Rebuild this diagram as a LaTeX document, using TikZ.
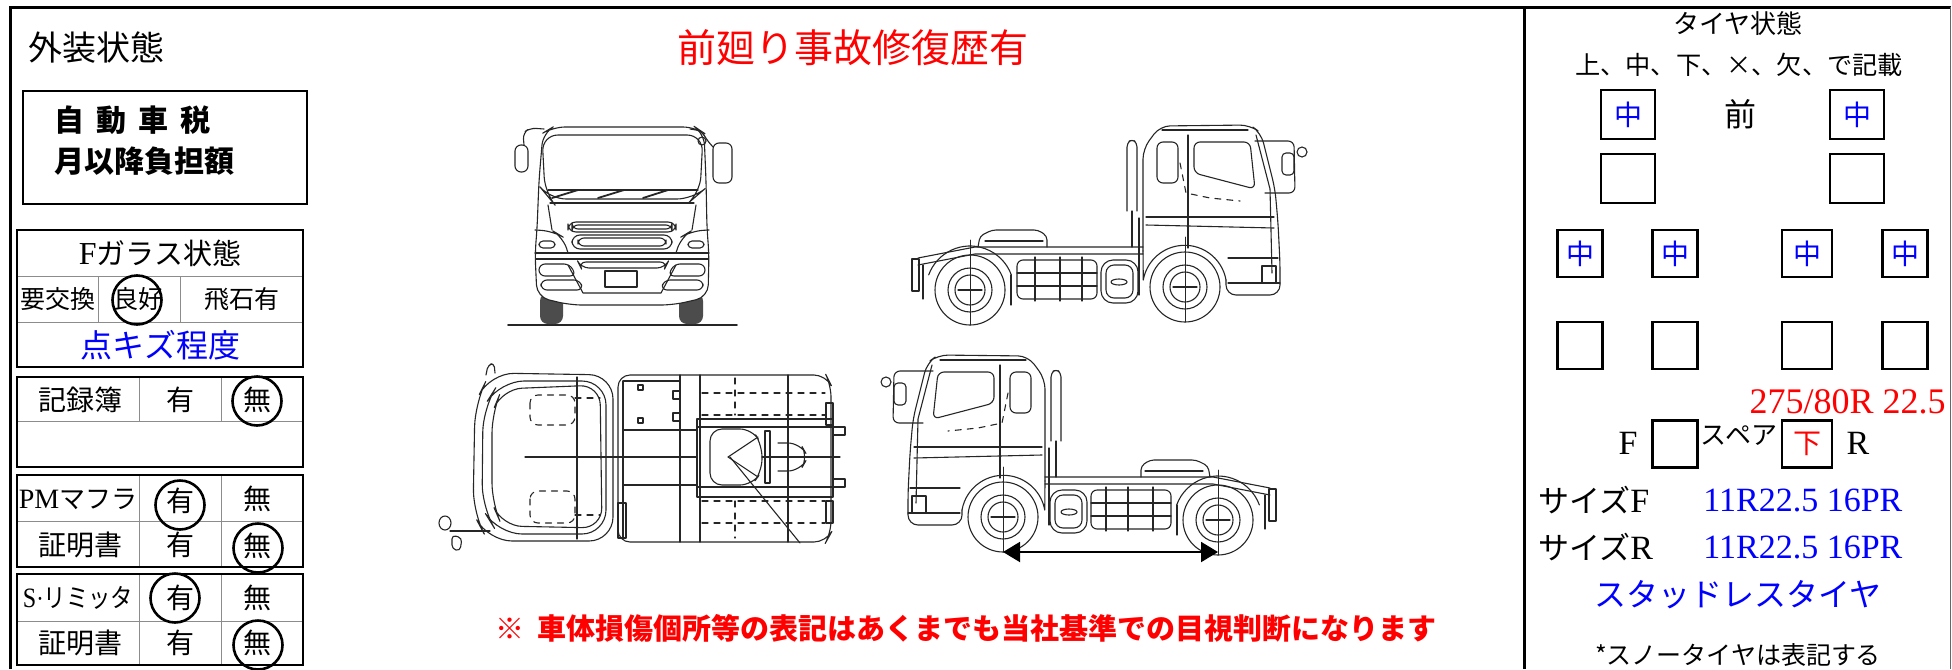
\documentclass[tikz,border=0pt]{standalone}
\usepackage{fontspec}
\setmainfont{Liberation Serif}
\newfontfamily\cjk{Noto Sans CJK JP}
\usetikzlibrary{arrows.meta}
\newcommand\fs[1]{\fontsize{#1}{#1}\selectfont}

\tikzset{
 tk/.style={line width=0.55pt, line join=round, line cap=round, black!85},
 frame/.style={line width=1.5pt},
 tbox/.style={line width=1.4pt},
 grid/.style={draw=black!45, line width=0.45pt},
 ring/.style={draw, circle, line width=1.3pt, inner sep=0pt, minimum size=24.5pt},
 txt/.style={inner sep=0pt, font=\cjk\fs{#1}},
 btxt/.style={inner sep=0pt, font=\cjk\bfseries\fs{#1}},
 latn/.style={inner sep=0pt, font=\fs{#1}},
 tyrebox/.style={draw, line width=1.4pt, inner sep=0pt, minimum width=#1, minimum height=23.5pt, font=\cjk\fs{14}},
 dim/.style={line width=1pt, {Triangle[length=8.5pt,width=10pt]}-{Triangle[length=8.5pt,width=10pt]}},
}

\newcommand\drawsidetruck{%
 % cab
 \draw[tk, rounded corners=5] (233,128) -- (233,26) -- (250,3) -- (340,2) -- (351,10) -- (365,66) -- (368,100) -- (370,140) -- (370,172) -- (316,172) -- (316,157);
 \draw[tk] (316,157) arc[start angle=-10, end angle=-170, radius=42] -- (233,128);
 \draw[tk] (252,7) -- (338,7);
 \draw[tk, rounded corners=3] (247,19) rectangle (268,60);
 \draw[tk, rounded corners=3] (284,19) -- (340,19) -- (345,66) -- (284,50) -- cycle;
 \draw[tk] (278,12) -- (278,125);
 \draw[tk] (346,12) -- (360,66) -- (362,150);
 \draw[tk] (236,94) -- (364,94);
 \draw[tk] (236,102) -- (364,105);
 \draw[tk] (318,135) -- (368,135);
 \draw[tk] (352,143) rectangle (366,160);
 \draw[tk] (318,160) -- (370,160);
 \draw[tk, dashed] (270,40) -- (276,70) -- (300,75) -- (330,78);
 % mirror
 \draw[tk, rounded corners=3] (345,18) -- (384,18) -- (385,70) -- (355,70);
 \draw[tk, rounded corners=2] (372,30) rectangle (384,52);
 \draw[tk] (392,29) circle[radius=5];
 % exhaust
 \draw[tk, rounded corners=2] (217,88) -- (217,20) -- (222,16) -- (227,20) -- (227,88);
 \draw[tk] (222,88) -- (222,124);
 \draw[tk] (229,95) -- (229,172);
 % chassis
 \draw[tk] (8,135) -- (65,124) -- (233,124);
 \draw[tk] (8,142) -- (65,131) -- (233,131);
 \draw[tk] (2,136) rectangle (9,168);
 \draw[tk] (13,142) -- (13,176);
 \draw[tk, rounded corners=2] (68,124) -- (70,113) -- (82,107) -- (128,107) -- (137,113) -- (137,124);
 \draw[tk] (75,118) -- (133,118);
 \draw[tk] (60,167) ++(-160:44) arc[start angle=-160, end angle=-20, radius=44];
 \draw[tk] (101,152) -- (101,182);
 % fuel tank
 \draw[tk, rounded corners=3] (107,137) rectangle (187,176);
 \draw[tk] (107,150) -- (187,150);
 \draw[tk] (107,163) -- (187,163);
 \draw[tk] (125,134) -- (125,178);
 \draw[tk] (150,134) -- (150,178);
 \draw[tk] (172,134) -- (172,178);
 % battery box
 \draw[tk, rounded corners=6] (191,137) rectangle (228,180);
 \draw[tk, rounded corners=4] (196,142) rectangle (223,175);
 \draw[tk] (209,159) ellipse[x radius=8, y radius=3];
 % wheels
 \foreach \cx/\cy in {60/167, 275/164} {
   \draw[tk] (\cx,\cy) circle[radius=35];
   \draw[tk] (\cx,\cy) circle[radius=22];
   \draw[tk] (\cx,\cy) circle[radius=15];
   \draw[tk] (\cx-12,\cy) -- (\cx+12,\cy);
   \draw[tk, line width=0.35pt] (\cx,\cy-50) -- (\cx,\cy+35);
 }
}

\begin{document}
\begin{tikzpicture}[x=0.5pt, y=-0.5pt]
\useasboundingbox (0,0) rectangle (1952,669);
\fill[white] (0,0) rectangle (1952,669);

% ---------- frame ----------
\draw[frame] (10,669) -- (10,7) -- (1951,7);
\draw[frame] (1524,7) -- (1524,669);
\draw[black!60, line width=0.5pt] (1950,7) -- (1950,669);

% ---------- left column ----------
\node[txt=17] (gaiso) at (96,48) {外装状態};

\draw[tbox] (23,91) rectangle (307,204);
\node[btxt=15, anchor=west] (tax1) at (54,120) {自\hspace{6pt}動\hspace{6pt}車\hspace{6pt}税};
\node[btxt=15, anchor=west] (tax2) at (54,161) {月以降負担額};

% F glass table
\draw[grid] (17,276) -- (303,276);
\draw[grid] (17,322) -- (303,322);
\draw[grid] (98,276) -- (98,322);
\draw[grid] (180,276) -- (180,322);
\draw[tbox] (17,230) rectangle (303,367);
\node[txt=14.5] (fglass) at (160,253) {{\rmfamily\fs{16}F}ガラス状態};
\node[txt=12.5] (koukan) at (58,299) {要交換};
\node[txt=12.5] (ryoko) at (138,299) {良好};
\node[txt=12.5] (hiseki) at (242,299) {飛石有};
\node[ring] (c1) at (137,300) {};
\node[txt=16, text=blue] (tenkizu) at (160,345) {点キズ程度};

% record book
\draw[grid] (17,421) -- (303,421);
\draw[grid] (139,377) -- (139,421);
\draw[grid] (221,377) -- (221,421);
\draw[tbox] (17,377) rectangle (303,467);
\node[txt=14] (kiroku) at (80,400) {記録簿};
\node[txt=14] (k1) at (180,400) {有};
\node[txt=14] (k2) at (257,400) {無};
\node[ring] (c2) at (257,401) {};

% PM muffler
\draw[grid] (17,521) -- (303,521);
\draw[grid] (139,475) -- (139,567);
\draw[grid] (221,475) -- (221,567);
\draw[tbox] (17,475) rectangle (303,567);
\node[txt=13] (pm) at (78,499) {{\rmfamily\fs{14}PM}マフラ};
\node[txt=14] (pm1) at (180,501) {有};
\node[txt=14] (pm2) at (257,499) {無};
\node[txt=14] (sh1) at (80,545) {証明書};
\node[txt=14] (sh1a) at (180,545) {有};
\node[txt=14] (sh1b) at (257,546) {無};
\node[ring] (c3) at (180,505) {};
\node[ring] (c4) at (258,548) {};

% speed limiter
\draw[grid] (17,621) -- (303,621);
\draw[grid] (139,574) -- (139,665);
\draw[grid] (221,574) -- (221,665);
\draw[tbox] (17,574) rectangle (303,665);
\node[txt=13] (sl) at (78,598) {\scalebox{0.86}[1]{{\rmfamily\fs{14}S}{\rmfamily\textperiodcentered}リミッタ}};
\node[txt=14] (sl1) at (180,598) {有};
\node[txt=14] (sl2) at (257,598) {無};
\node[txt=14] (sh2) at (80,643) {証明書};
\node[txt=14] (sh2a) at (180,643) {有};
\node[txt=14] (sh2b) at (257,643) {無};
\node[ring] (c5) at (175,598) {};
\node[ring] (c6) at (258,645) {};

% ---------- centre ----------
\node[txt=19.5, text=red] (title) at (853,48) {前廻り事故修復歴有};
\node[btxt=14.5, text=red] (note) at (966,628) {※\hspace{7pt}車体損傷個所等の表記はあくまでも当社基準での目視判断になります};

% front view
\begin{scope}[shift={(508,125)}]
 \draw[tk, line width=0.9pt] (0,200) -- (229,200);
 \fill[black!70, rounded corners=4] (32,168) rectangle (55,199);
 \fill[black!70, rounded corners=4] (171,168) rectangle (195,199);
 \draw[tk, rounded corners=6, fill=white] (29,172) -- (27,128) -- (29,105) -- (31,55) -- (35,8) -- (45,2) -- (187,2) -- (196,8) -- (198,55) -- (199,105) -- (201,128) -- (200,172) -- (165,180) -- (62,180) -- cycle;
 \draw[tk, rounded corners=8] (34,10) -- (195,10) -- (192,68) -- (185,74) -- (42,74) -- (37,68) -- cycle;
 \draw[tk] (40,65) -- (190,65);
 \draw[tk, line width=0.9pt] (44,73) -- (70,65);
 \draw[tk, line width=0.9pt] (90,73) -- (116,65);
 \draw[tk, line width=0.9pt] (135,73) -- (160,65);
 \draw[tk] (42,78) -- (186,78);
 \draw[tk] (40,80) -- (44,105);
 \draw[tk] (188,80) -- (184,105);
 \draw[tk, rounded corners=6] (27,105) -- (45,106) -- (55,112) -- (60,128);
 \draw[tk, rounded corners=6] (201,105) -- (183,106) -- (173,112) -- (168,128);
 \draw[tk, rounded corners=2] (31,116) rectangle (47,123);
 \draw[tk, rounded corners=2] (180,116) rectangle (196,123);
 \draw[tk, rounded corners=4] (60,97) rectangle (168,107);
 \draw[tk, rounded corners=3] (64,100) rectangle (164,104);
 \draw[tk, rounded corners=4] (64,110) rectangle (164,124);
 \draw[tk, rounded corners=3] (70,113) rectangle (158,121);
 \draw[tk] (27,128) -- (201,128);
 \draw[tk] (28,134) -- (200,134);
 \draw[tk, rounded corners=4] (70,137) -- (160,137) -- (157,143) -- (73,143) -- cycle;
 \draw[tk] (97,146) rectangle (129,162);
 \draw[tk, rounded corners=3] (31,139) -- (62,139) -- (68,151) -- (31,151) -- cycle;
 \draw[tk, rounded corners=3] (33,155) -- (72,155) -- (75,165) -- (33,165) -- cycle;
 \draw[tk, rounded corners=3] (197,139) -- (166,139) -- (160,151) -- (197,151) -- cycle;
 \draw[tk, rounded corners=3] (195,155) -- (156,155) -- (153,165) -- (195,165) -- cycle;
 \draw[tk] (60,140) -- (75,168) -- (153,168) -- (168,140);
 \draw[tk, rounded corners=3] (7,20) rectangle (20,47);
 \draw[tk, rounded corners=3] (16,20) -- (15,8) -- (22,3) -- (36,4);
 \draw[tk, rounded corners=3] (205,18) rectangle (224,58);
 \draw[tk, rounded corners=3] (205,22) -- (198,14) -- (194,6) -- (182,4);
 \draw[tk] (194,16) circle[radius=4];
\end{scope}

% side view (facing right)
\begin{scope}[shift={(910,123)}]
 \drawsidetruck
\end{scope}

% top view
\begin{scope}[shift={(440,363)}]
 \draw[tk, rounded corners=12] (173,12) -- (50,10) -- (35,40) -- (33,150) -- (48,178) -- (173,178) -- cycle;
 \draw[tk, rounded corners=12] (166,18) -- (60,18) -- (43,45) -- (42,145) -- (58,171) -- (166,171) -- cycle;
 \draw[tk, rounded corners=10] (62,26) -- (160,22) -- (162,165) -- (62,163) -- (52,140) -- (52,50) -- cycle;
 \draw[tk] (137,14) -- (137,176);
 \draw[tk, dashed, rounded corners=4] (90,32) rectangle (135,62);
 \draw[tk, dashed, rounded corners=4] (90,128) rectangle (135,160);
 \draw[tk, dashed] (135,35) -- (160,35);
 \draw[tk, dashed] (135,152) -- (160,152);
 \draw[tk] (85,94) -- (257,94);
 \draw[tk, rounded corners=2] (46,12) -- (48,2) -- (54,0) -- (55,10);
 \draw[tk] (10,168) -- (50,168);
 \draw[tk] (5,160) ellipse[x radius=6, y radius=7];
 \draw[tk, rounded corners=2] (12,172) -- (22,175) -- (20,188) -- (12,186) -- cycle;
 \draw[tk, rounded corners=6] (178,12) -- (386,12) -- (391,22) -- (391,170) -- (386,179) -- (178,179) -- cycle;
 \draw[tk, rounded corners=4] (183,18) -- (240,18);
 \draw[tk] (183,18) -- (183,175);
 \draw[tk] (240,12) -- (240,179);
 \draw[tk] (260,12) -- (260,179);
 \draw[tk] (348,12) -- (348,179);
 \draw[tk] (183,67) -- (257,67);
 \draw[tk] (183,122) -- (257,122);
 \draw[tk] (198,22) rectangle (203,27);
 \draw[tk] (198,55) rectangle (203,60);
 \draw[tk] (233,28) rectangle (240,36);
 \draw[tk] (233,50) rectangle (240,58);
 \draw[tk] (178,140) rectangle (186,175);
 \draw[tk] (257,56) rectangle (393,134);
 \draw[tk] (393,64) -- (405,64) -- (405,72) -- (393,72);
 \draw[tk] (393,124) -- (405,124) -- (405,116) -- (393,116);
 \draw[tk] (257,64) -- (393,64);
 \draw[tk] (257,124) -- (393,124);
 \draw[tk, rounded corners=6] (270,66) -- (312,66) -- (322,82) -- (322,108) -- (312,122) -- (270,122) -- cycle;
 \draw[tk] (288,94) -- (318,74);
 \draw[tk] (288,94) -- (318,114);
 \draw[tk] (325,68) rectangle (330,120);
 \draw[tk] (322,94) -- (400,94);
 \draw[tk, rounded corners=6] (338,80) -- (360,80) -- (368,94) -- (360,108) -- (338,108);
 \draw[tk, dashed] (262,30) -- (385,30);
 \draw[tk, dashed] (262,52) -- (385,52);
 \draw[tk, dashed] (262,138) -- (385,138);
 \draw[tk, dashed] (262,160) -- (385,160);
 \draw[tk, dashed] (295,15) -- (295,52);
 \draw[tk, dashed] (295,138) -- (295,175);
 \draw[tk] (290,94) -- (360,180);
 \draw[tk] (386,40) rectangle (393,62);
 \draw[tk] (386,138) rectangle (393,160);
\end{scope}

% side view (facing left) with wheelbase arrow
\begin{scope}[shift={(1278,353)}, xscale=-1]
 \drawsidetruck
 \coordinate (axF) at (275,199);
 \coordinate (axR) at (60,199);
\end{scope}
\draw[dim] (axF) -- (axR);

% ---------- tyre section ----------
\node[txt=13] (tstate) at (1738,24) {タイヤ状態};
\node[txt=12.6] (legend) at (1739,65) {上、中、下、×、欠、で記載};
\node[txt=16] (mae) at (1740,114) {前};
\node[tyrebox=27pt, minimum height=24.5pt, text=blue] (t1) at (1628,114.5) {中};
\node[tyrebox=27pt, minimum height=24.5pt, text=blue] (t2) at (1857,114.5) {中};
\node[tyrebox=27pt, minimum height=24.5pt] (t3) at (1628,178.5) {};
\node[tyrebox=27pt, minimum height=24.5pt] (t4) at (1857,178.5) {};
\node[tyrebox=22.5pt, text=blue] (t5) at (1580,253.5) {中};
\node[tyrebox=22.5pt, text=blue] (t6) at (1675,253.5) {中};
\node[tyrebox=25pt, text=blue] (t7) at (1807,253.5) {中};
\node[tyrebox=22.5pt, text=blue] (t8) at (1905,253.5) {中};
\node[tyrebox=22.5pt] (t9) at (1580,345.5) {};
\node[tyrebox=22.5pt] (t10) at (1675,345.5) {};
\node[tyrebox=25pt] (t11) at (1807,345.5) {};
\node[tyrebox=22.5pt] (t12) at (1905,345.5) {};
\node[latn=18, text=red, anchor=east] (spsize) at (1946,402) {275/80R 22.5};
\node[latn=17] (sf) at (1628,443) {F};
\node[tyrebox=22.5pt] (t13) at (1675,444) {};
\node[txt=13] (spare) at (1739,436) {スペア};
\node[tyrebox=25pt, text=red] (t14) at (1807,444) {下};
\node[latn=17] (sr) at (1858,443) {R};
\node[txt=15.5, anchor=west] (sizef) at (1538,500) {サイズ{\rmfamily\fs{17}F}};
\node[txt=15.5, anchor=west] (sizer) at (1538,547) {サイズ{\rmfamily\fs{17}R}};
\node[latn=17, text=blue, anchor=west] (szf) at (1703,500) {11R22.5 16PR};
\node[latn=17, text=blue, anchor=west] (szr) at (1703,547) {11R22.5 16PR};
\node[txt=16, text=blue] (studless) at (1738,595) {スタッドレスタイヤ};
\node[txt=12.5] (snow) at (1738,655) {*スノータイヤは表記する};
\end{tikzpicture}
\end{document}
